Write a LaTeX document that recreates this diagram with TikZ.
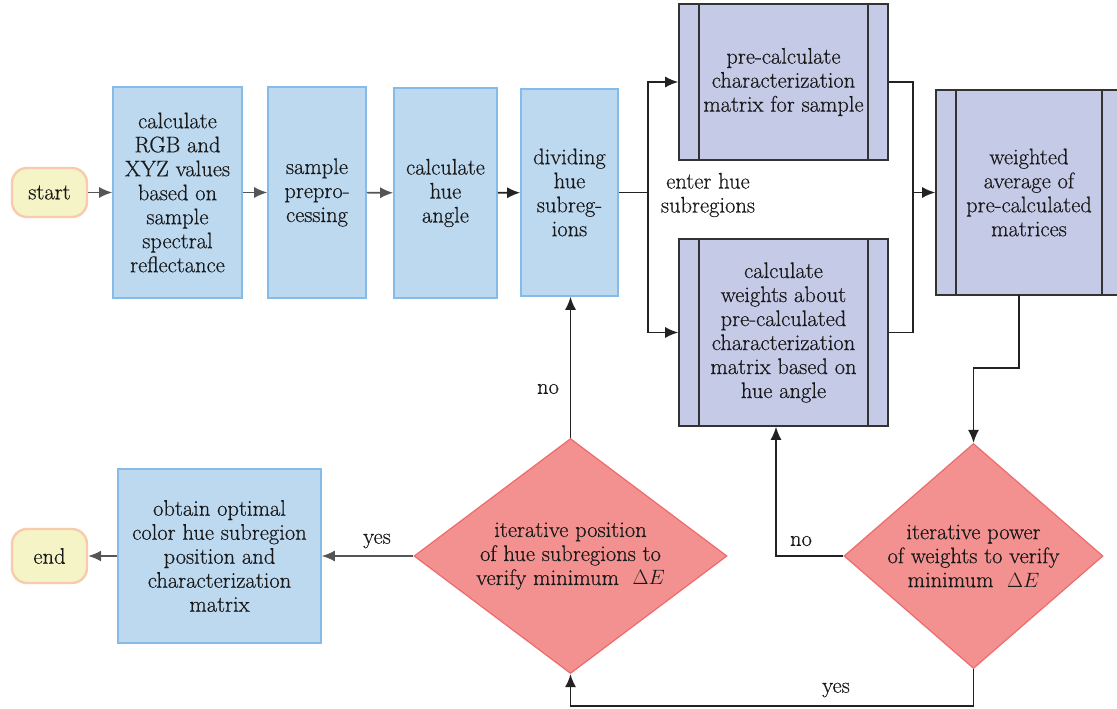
\documentclass[tikz,border=0pt]{standalone}
\usepackage{fontspec}
\setmainfont{Latin Modern Roman}[FakeBold=0.5]
\usetikzlibrary{shapes.geometric,arrows.meta}
\definecolor{bfill}{HTML}{BDD9F0}
\definecolor{bdraw}{HTML}{86BBE8}
\definecolor{pfill}{HTML}{C5CAE7}
\definecolor{pdraw}{HTML}{333333}
\definecolor{dfill}{HTML}{F39191}
\definecolor{ddraw}{HTML}{EE6B6B}
\definecolor{tfill}{HTML}{F4F4C6}
\definecolor{tdraw}{HTML}{F9CBAE}
\definecolor{garr}{HTML}{555555}
\definecolor{karr}{HTML}{222222}
\begin{document}
\begin{tikzpicture}[x=1pt,y=-1pt,
  every node/.style={font=\fontsize{22.5}{24}\selectfont, inner sep=0pt, align=center, text=black!90},
  bluebox/.style={draw=bdraw, fill=bfill, line width=1.6pt, rectangle},
  purplebox/.style={draw=pdraw, fill=pfill, line width=1.6pt, rectangle},
  decbox/.style={draw=ddraw, fill=dfill, line width=1.2pt, diamond},
  termbox/.style={draw=tdraw, fill=tfill, line width=2.4pt, rectangle, rounded corners=15pt},
  garrow/.style={draw=garr, line width=1.6pt, -{Latex[length=13pt,width=11pt]}},
  karrow/.style={draw=karr, line width=1.6pt, -{Latex[length=13pt,width=11pt]}},
  kline/.style={draw=karr, line width=1.6pt},
  lbl/.style={font=\fontsize{22.5}{24}\selectfont}
]
\useasboundingbox (0,0) rectangle (1117,709);
\begin{scope}
\clip (0,0) rectangle (1117,709);

% terminals
\node[termbox, minimum width=75pt, minimum height=49pt] (start) at (49.5,192.5) {start};
\node[termbox, minimum width=75pt, minimum height=54pt] (end) at (49.5,556) {end};

% blue process boxes
\node[bluebox, minimum width=129pt, minimum height=211pt] (b1) at (177.5,192.5)
  {calculate\\RGB and\\XYZ values\\based on\\sample\\spectral\\reflectance};
\node[bluebox, minimum width=98pt, minimum height=211pt] (b2) at (317,192.5)
  {sample\\prepro-\\cessing};
\node[bluebox, minimum width=103pt, minimum height=210pt] (b3) at (445.5,193)
  {calculate\\hue\\angle};
\node[bluebox, minimum width=97pt, minimum height=207pt] (b4) at (569.5,192.5)
  {dividing\\hue\\subreg-\\ions};
\node[bluebox, minimum width=203pt, minimum height=174pt] (b8) at (219.5,556)
  {obtain optimal\\color hue subregion\\position and\\characterization\\matrix};

% purple predefined-process boxes
\node[purplebox, minimum width=209pt, minimum height=156pt] (b5) at (783.5,82)
  {pre-calculate\\characterization\\matrix for sample};
\node[purplebox, minimum width=209pt, minimum height=187pt] (b6) at (783.5,332.5)
  {calculate\\weights about\\pre-calculated\\characterization\\matrix based on\\hue angle};
\node[purplebox, minimum width=186pt, minimum height=205pt] (b7) at (1029,192.5)
  {weighted\\average of\\pre-calculated\\matrices};
\foreach \b in {b5,b6,b7}{
  \draw[pdraw, line width=1.6pt] ([xshift=21pt]\b.north west) -- ([xshift=21pt]\b.south west);
  \draw[pdraw, line width=1.6pt] ([xshift=-21pt]\b.north east) -- ([xshift=-21pt]\b.south east);
}

% decisions (shape, then its text)
\node[decbox, minimum width=313pt, minimum height=235pt] (d1) at (570.5,556) {};
\node (d1t) at (d1.center) {iterative position\\of hue subregions to\\verify minimum \ $\Delta E$};
\node[decbox, minimum width=259pt, minimum height=225pt] (d2) at (973.5,556) {};
\node (d2t) at (d2.center) {iterative power\\of weights to verify\\minimum \ $\Delta E$};

% coordinates
\coordinate (split) at (648,192.5);
\coordinate (merge) at (913,192.5);
\coordinate (b7out) at (1019,295);
\coordinate (bend) at (1019,368);
\coordinate (nox) at (776,556);
\coordinate (yesy) at (973.5,706);

% connectors
\draw[garrow] (start) -- (b1);
\draw[garrow] (b1) -- (b2);
\draw[garrow] (b2) -- (b3);
\draw[karrow] (b3) -- (b4);
\draw[kline] (b4.east) -- (split);
\draw[karrow] (split) |- (b5.west);
\draw[karrow] (split) |- (b6.west);
\draw[kline] (b5.east) -| (merge);
\draw[kline] (b6.east) -| (merge);
\draw[karrow] (merge) -- (b7.west);
\draw[karrow] (b7out) -- (bend) -| (d2.north);
\draw[karrow] (d2.west) -- (nox) -- (nox |- b6.south);
\draw[karrow] (d2.south) -- (yesy) -| (d1.south);
\draw[karrow] (d1.north) -- (d1.north |- b4.south);
\draw[garrow] (d1.west) -- (b8.east);
\draw[garrow] (b8.west) -- (end.east);
\end{scope}

% labels
\node[lbl] (l1) at (708,195) {enter hue\\subregions};
\node[lbl] (l2) at (548,389) {no};
\node[lbl] (l3) at (801,541) {no};
\node[lbl] (l4) at (377,541) {yes};
\node[lbl] (l5) at (836,690) {yes};
\end{tikzpicture}
\end{document}
